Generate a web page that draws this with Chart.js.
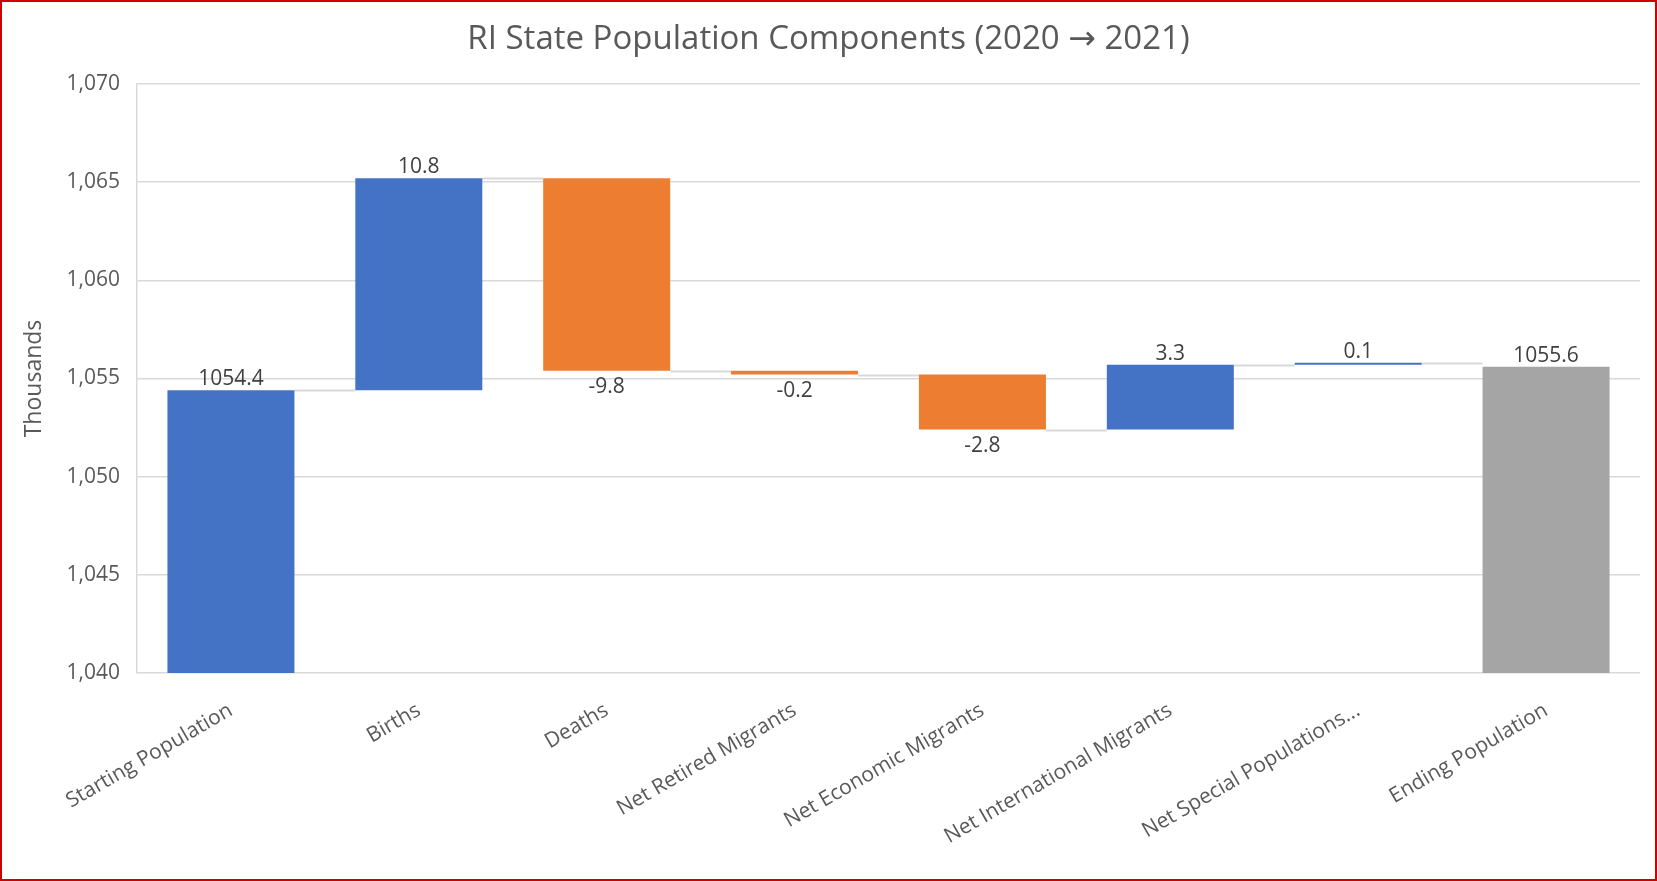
<!DOCTYPE html>
<html>
<head>
<meta charset="utf-8">
<script src="https://cdn.jsdelivr.net/npm/chart.js@4/dist/chart.umd.min.js"></script>
<style>
  html, body { margin: 0; padding: 0; background: #ffffff; }
  #wrap { width: 1657px; height: 881px; position: relative; }
  canvas { display: block; }
</style>
</head>
<body>
<div id="wrap"><canvas id="chart" width="1657" height="881"></canvas></div>
<script>
// Population change components, in thousands
const categories = [
  'Starting Population',
  'Births',
  'Deaths',
  'Net Retired Migrants',
  'Net Economic Migrants',
  'Net International Migrants',
  'Net Special Populations...',
  'Ending Population'
];
const changes = [1054.4, 10.8, -9.8, -0.2, -2.8, 3.3, 0.1, 1055.6];
const isTotal = [false, false, false, false, false, false, false, true];
const yMin = 1040;
const yMax = 1070;
const yStep = 5;

const BLUE = '#4472C4';
const ORANGE = '#ED7D31';
const GRAY = '#A5A5A5';
const GRID = '#D9D9D9';
const TEXT = '#595959';
const FONT = "'Open Sans', 'Noto Sans', sans-serif";
const TITLE_FONT = "'Open Sans', 'DejaVu Sans', sans-serif";

// Waterfall ranges: each step floats from the running total; totals rise from zero
let running = 0;
const ranges = changes.map((v, i) => {
  if (isTotal[i]) { running = v; return [0, v]; }
  const start = running;
  running = start + v;
  return [start, running];
});
const colors = changes.map((v, i) => isTotal[i] ? GRAY : (v >= 0 ? BLUE : ORANGE));

// Thin connectors between the end of one step and the start of the next
const connectors = {
  id: 'connectors',
  beforeDatasetsDraw(chart) {
    const { ctx, scales: { y } } = chart;
    const bars = chart.getDatasetMeta(0).data;
    ctx.save();
    ctx.strokeStyle = GRID;
    ctx.lineWidth = 2;
    for (let i = 0; i < bars.length - 1; i++) {
      const a = bars[i], b = bars[i + 1];
      const py = Math.round(y.getPixelForValue(ranges[i][1])) + 0.5;
      ctx.beginPath();
      ctx.moveTo(a.x + a.width / 2, py);
      ctx.lineTo(b.x - b.width / 2, py);
      ctx.stroke();
    }
    ctx.restore();
  }
};

// Value labels above rising steps and below falling ones
const valueLabels = {
  id: 'valueLabels',
  afterDatasetsDraw(chart) {
    const { ctx } = chart;
    const bars = chart.getDatasetMeta(0).data;
    ctx.save();
    ctx.font = '21px ' + FONT;
    ctx.fillStyle = '#404040';
    ctx.textAlign = 'center';
    ctx.textBaseline = 'alphabetic';
    bars.forEach((bar, i) => {
      const v = changes[i];
      const top = Math.min(bar.y, bar.base);
      const bottom = Math.max(bar.y, bar.base);
      const text = v.toFixed(1);
      if (v >= 0) ctx.fillText(text, bar.x, top - 5);
      else ctx.fillText(text, bar.x, bottom + 22);
    });
    ctx.restore();
  }
};

// Outer frame of the chart
const frame = {
  id: 'frame',
  afterDraw(chart) {
    const { ctx, width, height } = chart;
    ctx.save();
    ctx.strokeStyle = '#D00000';
    ctx.lineWidth = 2;
    ctx.strokeRect(1, 1, width - 2, height - 2);
    ctx.restore();
  }
};

Chart.defaults.font.family = FONT;
Chart.defaults.color = TEXT;

new Chart(document.getElementById('chart'), {
  type: 'bar',
  data: {
    labels: categories,
    datasets: [{
      data: ranges,
      backgroundColor: colors,
      borderWidth: 0,
      categoryPercentage: 1,
      barPercentage: 0.676
    }]
  },
  options: {
    responsive: false,
    devicePixelRatio: 1,
    animation: false,
    layout: { padding: { left: 17, right: 17, top: 0, bottom: 0 } },
    plugins: {
      legend: { display: false },
      tooltip: { enabled: false },
      title: {
        display: true,
        text: 'RI State Population Components (2020 \u2192 2021)',
        color: TEXT,
        font: { size: 33, weight: 'normal', family: TITLE_FONT, lineHeight: 1.2 },
        padding: { top: 20, bottom: 24.4 }
      }
    },
    scales: {
      x: {
        grid: { display: false, drawTicks: false },
        border: { display: false },
        ticks: {
          autoSkip: false,
          maxRotation: 30,
          minRotation: 30,
          padding: 25,
          color: TEXT,
          font: { size: 21 }
        },
        afterFit(scale) { scale.height = 208; }
      },
      y: {
        min: yMin,
        max: yMax,
        grid: { color: GRID, lineWidth: 1.5, drawTicks: false },
        border: { display: true, color: GRID, width: 1.5 },
        ticks: {
          stepSize: yStep,
          padding: 17,
          color: TEXT,
          font: { size: 21 },
          callback: (v) => v.toLocaleString('en-US')
        },
        title: {
          display: true,
          text: 'Thousands',
          color: TEXT,
          font: { size: 23, lineHeight: 1.2 },
          padding: { top: 4, bottom: 0 }
        },
        afterFit(scale) { scale.width = 120; }
      }
    }
  },
  plugins: [connectors, valueLabels, frame]
});
</script>
</body>
</html>
